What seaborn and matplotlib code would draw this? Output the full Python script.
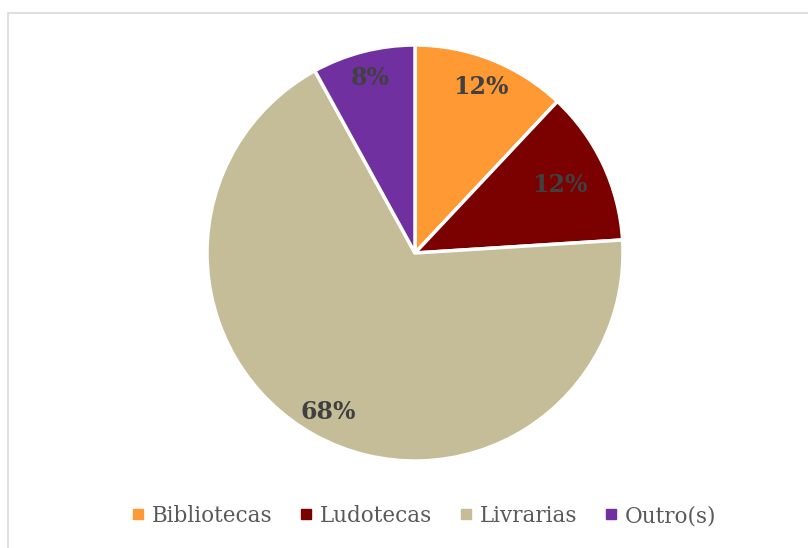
import matplotlib
matplotlib.use("Agg")
import matplotlib.pyplot as plt
import seaborn as sns
import numpy as np
from matplotlib.patches import Rectangle
from matplotlib.lines import Line2D

# dados
categorias = ['Bibliotecas', 'Ludotecas', 'Livrarias', 'Outro(s)']
valores = [12, 12, 68, 8]
cores = ['#FF9933', '#7B0000', '#C4BD97', '#7030A0']

sns.set_theme(style='white')
plt.rcParams['font.family'] = ['DejaVu Serif']

fig = plt.figure(figsize=(8.08, 5.48), dpi=100, facecolor='white')
ax = fig.add_axes([0, 0, 1, 1])

# moldura
ax.add_patch(Rectangle((8, -20), 820, 548 - 13 + 20, fill=False,
                       edgecolor='#D9D9D9', linewidth=1.2))

cx, cy, r = 415, 548 - 253, 208
wedges, _ = ax.pie(valores, colors=cores, startangle=90, counterclock=False,
                   center=(cx, cy), radius=r, frame=True,
                   wedgeprops=dict(edgecolor='white', linewidth=2.5))
ax.set_xlim(0, 808)
ax.set_ylim(0, 548)
ax.set_aspect('equal')
ax.axis('off')

# rótulos de percentagem
distancias = [0.86, 0.77, 0.87, 0.87]
for w, v, d in zip(wedges, valores, distancias):
    ang = np.deg2rad((w.theta1 + w.theta2) / 2)
    x = cx + d * r * np.cos(ang)
    y = cy + d * r * np.sin(ang)
    ax.text(x, y, f'{v}%', ha='center', va='center', fontsize=17,
            fontweight='bold', color='#404040')

handles = [Line2D([0], [0], marker='s', linestyle='', markersize=6.5,
                  markerfacecolor=c, markeredgecolor=c) for c in cores]
fig.legend(handles, categorias, loc='center', bbox_to_anchor=(0.522, 1 - 516 / 548),
           ncol=4, frameon=False, fontsize=15.5, handletextpad=0.15,
           handlelength=1.0, columnspacing=1.05, labelcolor='#595959')

fig.savefig('out.png', dpi=100, facecolor='white')
